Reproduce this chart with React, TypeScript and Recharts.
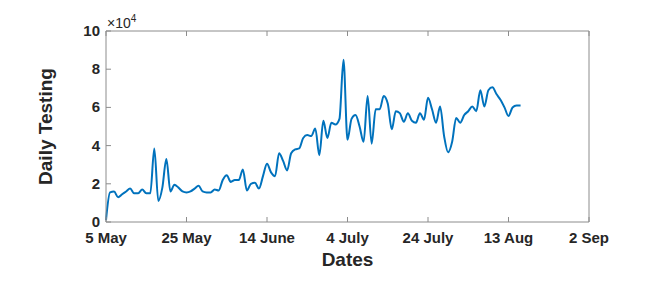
import React from 'react'
import { LineChart, Line, XAxis, YAxis } from 'recharts'

// daily tests, in units of 10^4, starting 5 May (day 0)
const testing = [
  0.1, 1.55, 1.6, 1.3, 1.45, 1.6, 1.75, 1.5, 1.5, 1.7,
  1.5, 1.5, 3.85, 1.1, 1.8, 3.3, 1.6, 1.95, 1.8, 1.6,
  1.55, 1.6, 1.75, 1.9, 1.6, 1.55, 1.55, 1.7, 1.65, 2.2,
  2.45, 2.1, 2.2, 2.2, 2.75, 1.65, 2.0, 2.05, 1.75, 2.4,
  3.05, 2.6, 2.4, 3.6, 3.2, 2.7, 3.6, 3.8, 3.85, 4.4,
  4.55, 4.5, 4.9, 3.5, 5.3, 4.4, 5.2, 5.1, 5.4, 8.5,
  4.3, 5.4, 5.6, 5.0, 4.2, 6.6, 4.1, 5.9, 5.9, 6.6,
  6.2, 4.85, 5.8, 5.7, 5.25, 5.7, 5.3, 5.2, 5.7, 5.35,
  6.5, 5.9, 5.2, 6.05, 4.5, 3.65, 4.2, 5.45, 5.2, 5.6,
  5.8, 6.05, 5.8, 6.9, 6.05, 6.9, 7.05, 6.7, 6.4, 6.0,
  5.55, 6.0, 6.1, 6.1,
]

const dateTicks = [0, 20, 40, 60, 80, 100, 120]
const dateLabels = ['5 May', '25 May', '14 June', '4 July', '24 July', '13 Aug', '2 Sep']
const yTicks = [0, 20000, 40000, 60000, 80000, 100000]

const data = testing.map((v, day) => ({ day, tests: v * 10000 }))

const FONT = '"Liberation Sans", Arial, Helvetica, sans-serif'
const AXIS = '#8c8c8c'
const TEXT = '#262626'

const BottomTick = ({ x, y, payload }: any) => (
  <g>
    <line x1={x} x2={x} y1={y} y2={y - 5} stroke={AXIS} />
    <text x={x} y={y + 21} textAnchor='middle' fontSize={15} fontWeight='bold' fill={TEXT} fontFamily={FONT}>
      {dateLabels[dateTicks.indexOf(payload.value)]}
    </text>
  </g>
)

const TopTick = ({ x, y }: any) => <line x1={x} x2={x} y1={y} y2={y + 5} stroke={AXIS} />

const LeftTick = ({ x, y, payload }: any) => (
  <g>
    <line x1={x} x2={x + 5} y1={y} y2={y} stroke={AXIS} />
    <text x={x - 6} y={y + 5} textAnchor='end' fontSize={15} fontWeight='bold' fill={TEXT} fontFamily={FONT}>
      {payload.value / 10000}
    </text>
  </g>
)

const RightTick = ({ x, y }: any) => <line x1={x} x2={x - 5} y1={y} y2={y} stroke={AXIS} />

const YLabel = ({ viewBox }: any) => {
  const { x, y, height } = viewBox
  const cx = x + 45
  const cy = y + height / 2
  return (
    <g fontFamily={FONT}>
      <text x={cx} y={cy} transform={`rotate(-90 ${cx} ${cy})`} textAnchor='middle' dominantBaseline='central'
        fontSize={19} fontWeight='bold' fill={TEXT}>
        Daily Testing
      </text>
      <text x={x + 107} y={y - 3} fontSize={14} fill={TEXT}>
        ×10<tspan dy={-6} fontSize={10}>4</tspan>
      </text>
    </g>
  )
}

const XLabel = ({ viewBox }: any) => {
  const { x, y, width } = viewBox
  return (
    <text x={x + width / 2} y={y + 44} textAnchor='middle' fontSize={19} fontWeight='bold' fill={TEXT} fontFamily={FONT}>
      Dates
    </text>
  )
}

export default function App() {
  return (
    <div style={{ position: 'absolute', left: 0, top: 0, background: '#fff' }}>
      <LineChart width={645} height={292} data={data} margin={{ top: 0, right: 0, bottom: 0, left: 0 }}>
        <XAxis xAxisId='top' orientation='top' dataKey='day' type='number' domain={[0, 120]} ticks={dateTicks}
          interval={0} height={31} tickSize={0} tickMargin={0} tick={<TopTick />} stroke={AXIS} />
        <XAxis dataKey='day' type='number' domain={[0, 120]} ticks={dateTicks} interval={0} height={70}
          tickSize={0} tickMargin={0} tick={<BottomTick />} stroke={AXIS} label={<XLabel />} />
        <YAxis yAxisId='right' orientation='right' type='number' domain={[0, 100000]} ticks={yTicks} interval={0}
          width={56} tickSize={0} tickMargin={0} tick={<RightTick />} stroke={AXIS} />
        <YAxis type='number' domain={[0, 100000]} ticks={yTicks} interval={0} width={106}
          tickSize={0} tickMargin={0} tick={<LeftTick />} stroke={AXIS} label={<YLabel />} />
        <Line type='monotone' dataKey='tests' stroke='#0072BD' strokeWidth={2} dot={false} isAnimationActive={false} />
      </LineChart>
    </div>
  )
}
